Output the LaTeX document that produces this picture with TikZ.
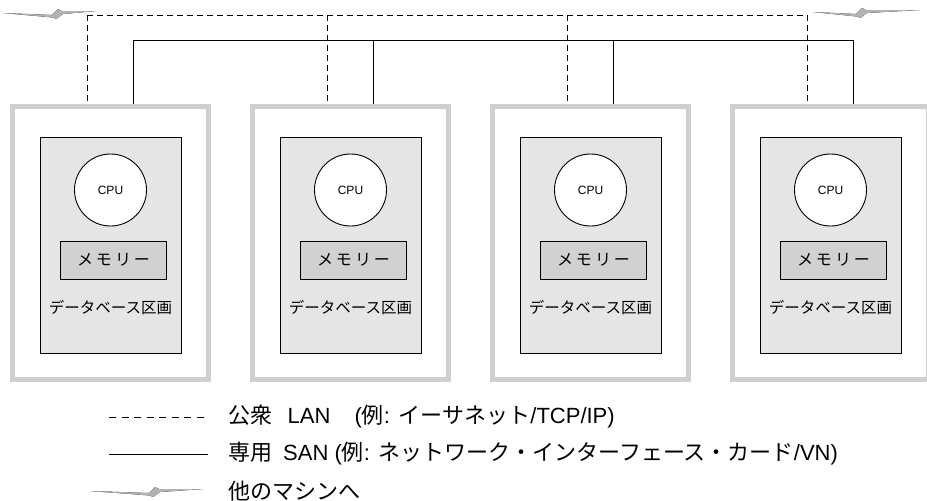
\documentclass[tikz,border=0pt]{standalone}
\usepackage{fontspec}
\setmainfont{Liberation Sans}
\newfontfamily\jpfont{Noto Sans CJK JP}
\usetikzlibrary{positioning}
\tikzset{>=stealth}
\tikzset{
  server/.style={draw=black!19, line width=5pt, minimum width=195.5pt, minimum height=272.5pt},
  partition/.style={draw, fill=black!10, line width=0.9pt, minimum width=141pt, minimum height=216pt},
  cpu/.style={circle, draw, fill=white, line width=0.9pt, minimum size=72pt, inner sep=0pt, font=\fontsize{12}{14}\selectfont},
  memory/.style={draw, fill=black!18, line width=0.9pt, minimum width=106pt, minimum height=38pt, font=\jpfont\fontsize{16}{18}\selectfont},
  dblabel/.style={font=\jpfont\fontsize{15.5}{18}\selectfont},
  legend/.style={anchor=west, inner sep=0pt, font=\fontsize{22}{26}\selectfont},
  lan/.style={dash pattern=on 6pt off 4pt, line width=0.9pt},
  san/.style={line width=0.9pt},
  pics/bolt/.style 2 args={code={
    \fill[top color=black!30, middle color=black!75, bottom color=black!30]
      (-#1,0) -- (-4,2) -- (2,-4) -- (6,-2) -- (#2,-2) -- (7,1)
      -- (0,6) -- (-3,4.5) -- cycle;
  }}
}

\begin{document}
\begin{tikzpicture}[x=1pt, y=-1pt]
    \clip (0,0) rectangle (927,501);
    % the four machines
    \foreach \i/\x in {1/110.5, 2/350.5, 3/590.5, 4/830.5}{
      \node[server] (srv\i) at (\x,243) {};
      \node[partition] (part\i) at (\x,245) {};
      \node[cpu] (cpu\i) at (\x,190) {CPU};
      \node[memory] (mem\i) at (\x+3,260) {メ\hspace{3pt}モ\hspace{3pt}リ\hspace{3pt}ー};
      \node[dblabel] (db\i) at (\x,308) {データベース区画};
      \coordinate (lan\i) at (\x-23.5,15);
      \coordinate (san\i) at (\x+22.5,40);
      \draw[lan] (lan\i) -- (lan\i |- srv\i.north);
      \draw[san] (san\i) -- (san\i |- srv\i.north);
    }
    % networks
    \draw[lan] (lan1) -- (lan4);
    \draw[san] (san1) -- (san4);
    \pic at (56,13) {bolt={53}{41}};
    \pic at (860,12) {bolt={47}{60}};
    % legend
    \coordinate (lanA) at (109,417);
    \coordinate (lanB) at (208,417);
    \draw[lan, dash pattern=on 7pt off 5.5pt] (lanA) -- (lanB);
    \node[legend, right=20pt of lanB] (lanT) {{\jpfont 公衆}\hspace{0.7em}LAN\hspace{1.1em}({\jpfont 例}:\hspace{0.4em}{\jpfont イーサネット}/TCP/IP)};
    \coordinate (sanA) at (109,454);
    \coordinate (sanB) at (208,454);
    \draw[san] (sanA) -- (sanB);
    \node[legend, right=20pt of sanB] (sanT) {{\jpfont 専用}\hspace{0.5em}SAN ({\jpfont 例}:\hspace{0.4em}{\jpfont ネットワーク・インターフェース・カード}/VN)};
    \pic at (153,491) {bolt={63}{50}};
    \node[legend] (boltT) at (sanT.west |- 0,491) {\jpfont 他のマシンへ};
\end{tikzpicture}
\end{document}
